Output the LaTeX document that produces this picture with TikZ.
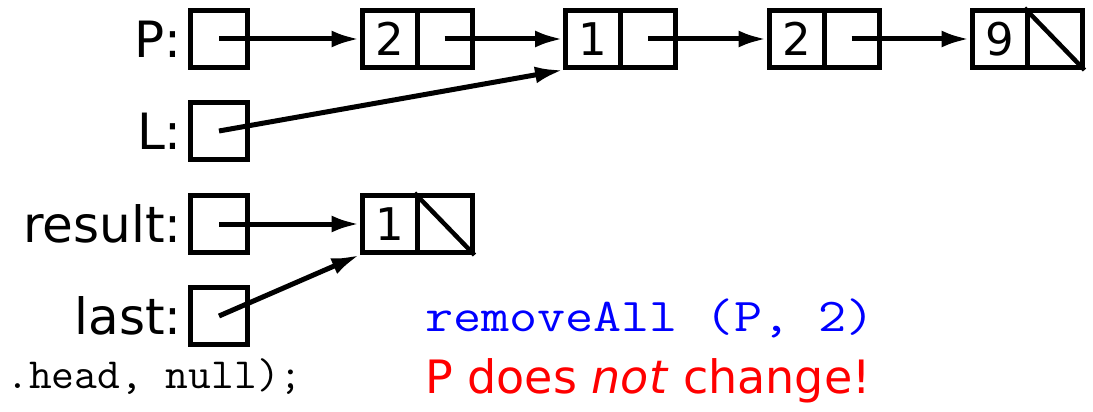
\documentclass[tikz,border=0pt]{standalone}
\usepackage{fontspec}
\setmainfont{DejaVu Sans}
\usetikzlibrary{arrows.meta}
\tikzset{
  cell/.style={draw, line width=5pt, minimum width=55pt, minimum height=57pt, inner sep=0pt, font=\fontsize{45}{45}\selectfont},
  varbox/.style={draw, line width=5pt, minimum width=57pt, minimum height=57pt, inner sep=0pt},
  ptr/.style={line width=5pt, -{Latex[length=28pt,width=17pt]}},
  nullline/.style={line width=4.5pt},
  lbl/.style={anchor=east, inner sep=0pt, font=\fontsize{50}{50}\selectfont}
}
\begin{document}
\begin{tikzpicture}[x=1pt,y=-1pt]
\useasboundingbox (0,0) rectangle (1093,412);
% variable boxes
\node[varbox] (pP) at (219,39) {};
\node[varbox] (pL) at (219,131) {};
\node[varbox] (pR) at (219,224) {};
\node[varbox] (pLast) at (219,316) {};
% labels
\node[lbl] (tP) at (182,39) {P:};
\node[lbl] (tL) at (182,131) {L:};
\node[lbl] (tR) at (182,224) {result:};
\node[lbl] (tLast) at (182,316) {last:};
% list P
\node[cell] (aV) at (389.5,39) {2};
\node[cell] (aP) at (444.5,39) {};
\node[cell] (bV) at (593,39) {1};
\node[cell] (bP) at (648,39) {};
\node[cell] (cV) at (796.5,39) {2};
\node[cell] (cP) at (851.5,39) {};
\node[cell] (dV) at (999.5,39) {9};
\node[cell] (dP) at (1054.5,39) {};
\draw[nullline] (dP.north west) -- (dP.south east);
% result list
\node[cell] (rV) at (389.5,224) {1};
\node[cell] (rP) at (444.5,224) {};
\draw[nullline] (rP.north west) -- (rP.south east);
% pointers
\draw[ptr] (pP.center) -- (aV.west);
\draw[ptr] (aP.center) -- (bV.west);
\draw[ptr] (bP.center) -- (cV.west);
\draw[ptr] (cP.center) -- (dV.west);
\draw[ptr] (pL.center) -- (bV.south west);
\draw[ptr] (pR.center) -- (rV.west);
\draw[ptr] (pLast.center) -- (rV.south west);
% texts
\node[anchor=east, inner sep=0pt, font=\ttfamily\fontsize{43}{43}\selectfont] (code) at (303,377) {\scalebox{1.03}[1]{.head, null);}};
\node[anchor=west, inner sep=0pt, text=blue, font=\ttfamily\fontsize{47}{47}\selectfont] (call) at (425,318) {\scalebox{1.16}[1]{removeAll (P, 2)}};
\node[anchor=west, inner sep=0pt, text=red, font=\fontsize{46}{46}\selectfont] (note) at (425,381) {P does \textit{not} change!};
\end{tikzpicture}
\end{document}
